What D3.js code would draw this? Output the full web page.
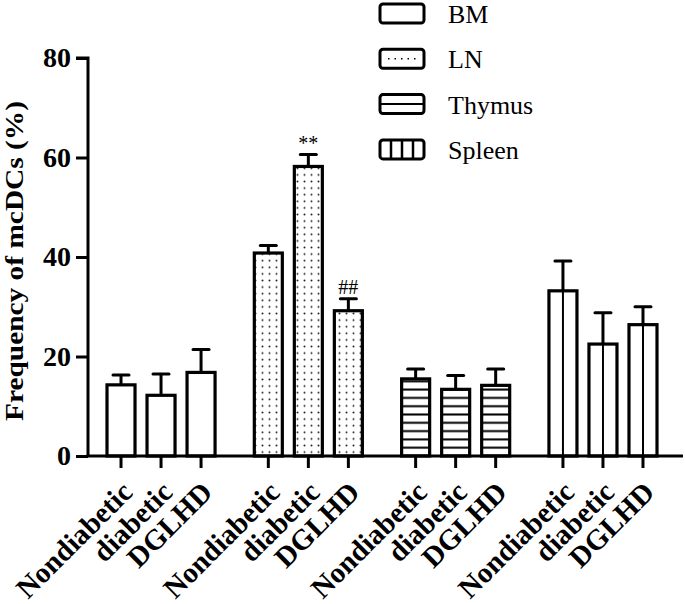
<!DOCTYPE html>
<html>
<head>
<meta charset="utf-8">
<script src="https://cdn.jsdelivr.net/npm/d3@7"></script>
<style>
  body { margin: 0; background: #fff; }
  svg { display: block; font-family: "Liberation Serif", "Times New Roman", serif; }
</style>
</head>
<body>
<svg id="chart"></svg>
<script>
var tissues = ["BM", "LN", "Thymus", "Spleen"]
var groups = ["Nondiabetic", "diabetic", "DGLHD"]
var means = [
    [14.3, 12.2, 16.8],
    [40.8, 58.2, 29.2],
    [15.5, 13.4, 14.2],
    [33.2, 22.5, 26.4]
]
var errors = [
    [2.0, 4.3, 4.6],
    [1.5, 2.4, 2.4],
    [2.0, 2.8, 3.3],
    [6.0, 6.3, 3.6]
]
var marks = [
    ["", "", ""],
    ["", "**", "##"],
    ["", "", ""],
    ["", "", ""]
]
var yTicks = [0, 20, 40, 60, 80]

var dimensions = {
    width: 685,
    height: 604,
    margin: { top: 58, bottom: 148, left: 88, right: 2 }
}

var svg = d3.select("#chart")
    .attr("width", dimensions.width)
    .attr("height", dimensions.height)

var baseY = dimensions.height - dimensions.margin.bottom

var yScale = d3.scaleLinear()
    .domain([0, 80])
    .range([baseY, dimensions.margin.top])

var xGroup = d3.scaleBand()
    .domain(tissues)
    .range([101, 663])
    .paddingInner(0.185)
    .paddingOuter(0)

var xSub = d3.scaleBand()
    .domain(groups)
    .range([0, xGroup.bandwidth()])
    .paddingInner(0.3)
    .paddingOuter(0.15)

var defs = svg.append("defs")

var dots = defs.append("pattern")
    .attr("id", "dots")
    .attr("patternUnits", "userSpaceOnUse")
    .attr("width", 7)
    .attr("height", 6.6)
dots.append("rect").attr("width", 7).attr("height", 6.6).attr("fill", "#fff")
dots.append("circle").attr("cx", 3.5).attr("cy", 3.3).attr("r", 1).attr("fill", "#222")

var hlines = defs.append("pattern")
    .attr("id", "hlines")
    .attr("patternUnits", "userSpaceOnUse")
    .attr("y", baseY - 4.15)
    .attr("width", 10)
    .attr("height", 8.3)
hlines.append("rect").attr("width", 10).attr("height", 8.3).attr("fill", "#fff")
hlines.append("line")
    .attr("x1", 0).attr("x2", 10)
    .attr("y1", 4.15).attr("y2", 4.15)
    .attr("stroke", "#000").attr("stroke-width", 2)

var fills = ["#fff", "url(#dots)", "url(#hlines)", "#fff"]

// flatten to rows for drawing
var rows = []
tissues.forEach(function(t, ti) {
    groups.forEach(function(g, gi) {
        rows.push({
            tissue: t, ti: ti, group: g,
            mean: means[ti][gi], err: errors[ti][gi], mark: marks[ti][gi],
            x: xGroup(t) + xSub(g)
        })
    })
})

var bw = xSub.bandwidth()

var bars = svg.append("g")
bars.selectAll("rect")
    .data(rows)
    .enter()
    .append("rect")
    .attr("x", d => d.x)
    .attr("y", d => yScale(d.mean))
    .attr("width", bw)
    .attr("height", d => baseY - yScale(d.mean))
    .attr("fill", d => fills[d.ti])
    .attr("stroke", "#000")
    .attr("stroke-width", 3.2)

// spleen: one vertical stripe in the middle
bars.selectAll("line.stripe")
    .data(rows.filter(d => d.ti == 3))
    .enter()
    .append("line")
    .attr("class", "stripe")
    .attr("x1", d => d.x + bw / 2)
    .attr("x2", d => d.x + bw / 2)
    .attr("y1", d => yScale(d.mean))
    .attr("y2", baseY)
    .attr("stroke", "#000")
    .attr("stroke-width", 2)

// error bars (upper only)
var errG = svg.append("g")
errG.selectAll("line.stem")
    .data(rows)
    .enter()
    .append("line")
    .attr("x1", d => d.x + bw / 2)
    .attr("x2", d => d.x + bw / 2)
    .attr("y1", d => yScale(d.mean))
    .attr("y2", d => yScale(d.mean + d.err))
    .attr("stroke", "#000")
    .attr("stroke-width", 3)
errG.selectAll("line.cap")
    .data(rows)
    .enter()
    .append("line")
    .attr("x1", d => d.x + bw / 2 - 8)
    .attr("x2", d => d.x + bw / 2 + 8)
    .attr("y1", d => yScale(d.mean + d.err))
    .attr("y2", d => yScale(d.mean + d.err))
    .attr("stroke", "#000")
    .attr("stroke-width", 3)
    .attr("stroke-linecap", "round")

svg.append("g")
    .selectAll("text")
    .data(rows.filter(d => d.mark != ""))
    .enter()
    .append("text")
    .attr("x", d => d.x + bw / 2)
    .attr("y", d => yScale(d.mean + d.err) - 5)
    .attr("text-anchor", "middle")
    .style("font-size", "20px")
    .text(d => d.mark)

// y axis
var yAxisGen = d3.axisLeft().scale(yScale).tickValues(yTicks).tickSize(12).tickPadding(5)
var yAxis = svg.append("g")
    .attr("transform", `translate(${dimensions.margin.left},0)`)
    .call(yAxisGen)
yAxis.select(".domain").attr("stroke-width", 3).attr("d", `M-12,${yScale(80)}H0V${baseY}`)
yAxis.selectAll(".tick line").attr("stroke-width", 3)
yAxis.selectAll("text")
    .style("font-family", "Liberation Serif")
    .style("font-size", "28px")
    .style("font-weight", "bold")
    .attr("fill", "#000")

// x axis
var xAxis = svg.append("g")
xAxis.append("line")
    .attr("x1", dimensions.margin.left - 1.5)
    .attr("x2", dimensions.width - dimensions.margin.right)
    .attr("y1", baseY).attr("y2", baseY)
    .attr("stroke", "#000").attr("stroke-width", 3)
xAxis.selectAll("line.xt")
    .data(rows)
    .enter()
    .append("line")
    .attr("x1", d => d.x + bw / 2)
    .attr("x2", d => d.x + bw / 2)
    .attr("y1", baseY)
    .attr("y2", baseY + 12)
    .attr("stroke", "#000").attr("stroke-width", 3)
xAxis.selectAll("text")
    .data(rows)
    .enter()
    .append("text")
    .attr("transform", d => `translate(${d.x + bw / 2 + 13},${baseY + 38}) rotate(-45)`)
    .attr("text-anchor", "end")
    .style("font-size", "29px")
    .style("font-weight", "bold")
    .text(d => d.group)

// y axis title
svg.append("text")
    .attr("transform", `translate(23,261) rotate(-90)`)
    .attr("text-anchor", "middle")
    .attr("textLength", 320)
    .attr("lengthAdjust", "spacingAndGlyphs")
    .style("font-size", "26px")
    .style("font-weight", "bold")
    .text("Frequency of mcDCs (%)")

// legend
var legend = svg.append("g").attr("transform", "translate(380,4)")
var item = legend.selectAll("g")
    .data(tissues)
    .enter()
    .append("g")
    .attr("transform", (d, i) => `translate(0,${i * 45.3})`)
item.append("rect")
    .attr("width", 44)
    .attr("height", 19)
    .attr("rx", 3)
    .attr("fill", "#fff")
    .attr("stroke", "#000")
    .attr("stroke-width", 3)
item.append("text")
    .attr("x", 68)
    .attr("y", 19)
    .style("font-size", "26px")
    .text(d => d)
legend.append("line")
    .attr("x1", 8).attr("x2", 38)
    .attr("y1", 45.3 + 9.5).attr("y2", 45.3 + 9.5)
    .attr("stroke", "#000").attr("stroke-width", 1.5)
    .attr("stroke-dasharray", "1.5,5")
legend.append("line")
    .attr("x1", 0).attr("x2", 44)
    .attr("y1", 90.6 + 9.5).attr("y2", 90.6 + 9.5)
    .attr("stroke", "#000").attr("stroke-width", 2)
legend.selectAll("line.v")
    .data([11, 22, 33])
    .enter()
    .append("line")
    .attr("x1", d => d).attr("x2", d => d)
    .attr("y1", 135.9).attr("y2", 135.9 + 19)
    .attr("stroke", "#000").attr("stroke-width", 2.5)
</script>
</body>
</html>
